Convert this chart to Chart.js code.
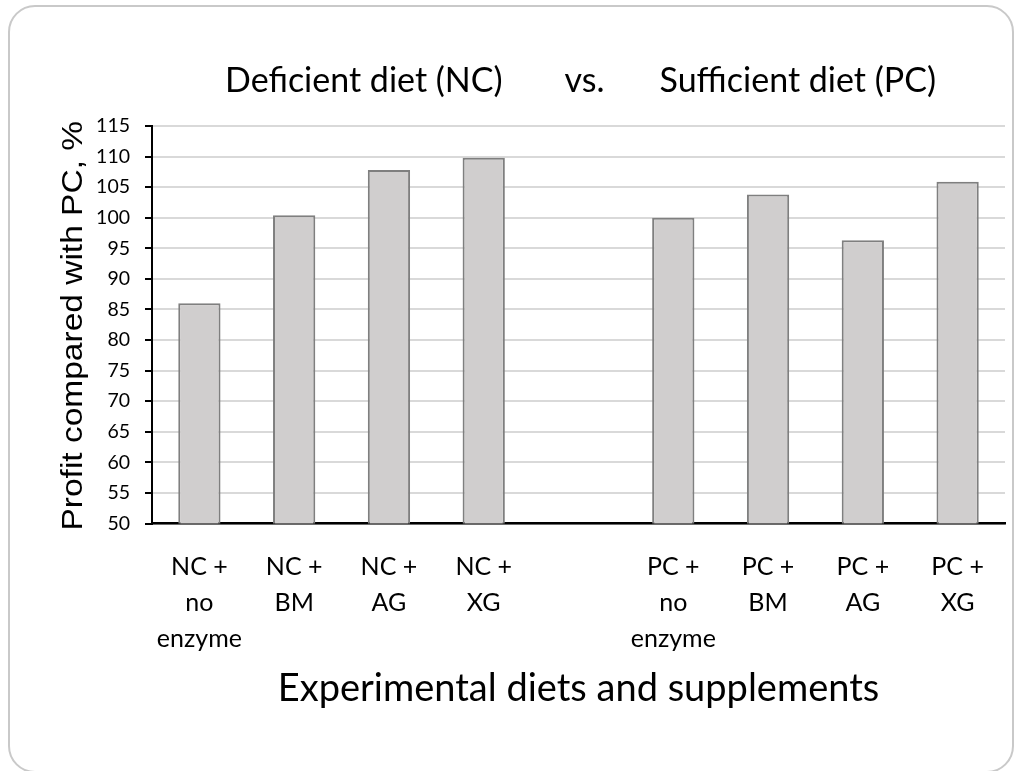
<!DOCTYPE html>
<html>
<head>
<meta charset="utf-8">
<script src="https://cdn.jsdelivr.net/npm/chart.js@4/dist/chart.umd.min.js"></script>
<style>
  html, body { margin: 0; padding: 0; background: #ffffff; }
  #wrap { width: 1017px; height: 771px; position: relative; }
</style>
</head>
<body>
<div id="wrap"><canvas id="c" width="1017" height="771"></canvas></div>
<script>
// Diet groups and enzyme supplements (blank slot separates NC from PC)
const categories = [
  ['NC +', 'no', 'enzyme'],
  ['NC +', 'BM'],
  ['NC +', 'AG'],
  ['NC +', 'XG'],
  '',
  ['PC +', 'no', 'enzyme'],
  ['PC +', 'BM'],
  ['PC +', 'AG'],
  ['PC +', 'XG']
];
// Profit relative to the positive control, %
const profitValues = [86, 100.4, 107.8, 109.8, null, 100, 103.8, 96.3, 105.9];
const yMin = 50;
const yMax = 115;
const yStep = 5;

const titleParts = ['Deficient diet (NC)', 'vs.', 'Sufficient diet (PC)'];
const yTitle = 'Profit compared with PC, %';
const xTitle = 'Experimental diets and supplements';

const calibriLike = "Lato, 'Open Sans', sans-serif";

// Rounded outer frame, title row and rotated value-axis caption
const decorPlugin = {
  id: 'decor',
  beforeDraw(chart) {
    const ctx = chart.ctx;
    ctx.save();
    ctx.fillStyle = '#ffffff';
    ctx.fillRect(0, 0, chart.width, chart.height);
    ctx.beginPath();
    ctx.roundRect(9, 6, 1004, 766, 26);
    ctx.lineWidth = 2;
    ctx.strokeStyle = '#c9c9c9';
    ctx.stroke();
    ctx.restore();
  },
  afterDraw(chart) {
    const ctx = chart.ctx;
    const area = chart.chartArea;
    const cx = (area.left + area.right) / 2;
    ctx.save();
    ctx.fillStyle = '#000000';
    ctx.font = "34px " + calibriLike;
    ctx.textBaseline = 'alphabetic';
    const gapA = 62, gapB = 55;
    const w0 = ctx.measureText(titleParts[0]).width;
    const w1 = ctx.measureText(titleParts[1]).width;
    const w2 = ctx.measureText(titleParts[2]).width;
    const total = w0 + gapA + w1 + gapB + w2;
    let x = cx + 2 - total / 2;
    const baseY = 92;
    ctx.textAlign = 'left';
    ctx.fillText(titleParts[0], x, baseY);
    x += w0 + gapA;
    ctx.fillText(titleParts[1], x, baseY);
    x += w1 + gapB;
    ctx.fillText(titleParts[2], x, baseY);
    ctx.restore();

    ctx.save();
    ctx.translate(82, (area.top + area.bottom) / 2 + 1);
    ctx.rotate(-Math.PI / 2);
    ctx.scale(1, 0.86);
    ctx.font = "33.5px 'Liberation Sans', Arial, sans-serif";
    ctx.fillStyle = '#000000';
    ctx.textAlign = 'center';
    ctx.textBaseline = 'alphabetic';
    ctx.fillText(yTitle, 0, 0);
    ctx.restore();
  }
};

new Chart(document.getElementById('c'), {
  type: 'bar',
  data: {
    labels: categories,
    datasets: [{
      data: profitValues,
      backgroundColor: '#d0cece',
      borderColor: '#7f7f7f',
      borderWidth: 2,
      borderSkipped: 'bottom',
      barPercentage: 0.446,
      categoryPercentage: 1
    }]
  },
  options: {
    responsive: false,
    animation: false,
    devicePixelRatio: 1,
    layout: { padding: { top: 126, right: 12, left: 0, bottom: 0 } },
    plugins: {
      legend: { display: false },
      title: { display: false },
      tooltip: { enabled: false }
    },
    scales: {
      x: {
        grid: { display: false, drawTicks: false },
        border: { display: true, color: '#000000', width: 2.5 },
        ticks: {
          color: '#000000',
          padding: 25,
          maxRotation: 0,
          autoSkip: false,
          font: { family: calibriLike, size: 25, lineHeight: 1.44 }
        },
        title: {
          display: true,
          text: xTitle,
          color: '#000000',
          font: { family: calibriLike, size: 38 },
          padding: { top: 0, bottom: 59 }
        },
        afterFit(scale) { scale.height = 247.5; }
      },
      y: {
        min: yMin,
        max: yMax,
        grid: {
          color: '#d9d9d9',
          lineWidth: 2,
          tickColor: '#000000',
          tickLength: 7,
          tickWidth: 2
        },
        border: { display: true, color: '#000000', width: 2 },
        ticks: {
          stepSize: yStep,
          color: '#000000',
          padding: 15,
          font: { family: calibriLike, size: 19.5 }
        },
        afterFit(scale) { scale.width = 152; }
      }
    }
  },
  plugins: [decorPlugin]
});
</script>
</body>
</html>
